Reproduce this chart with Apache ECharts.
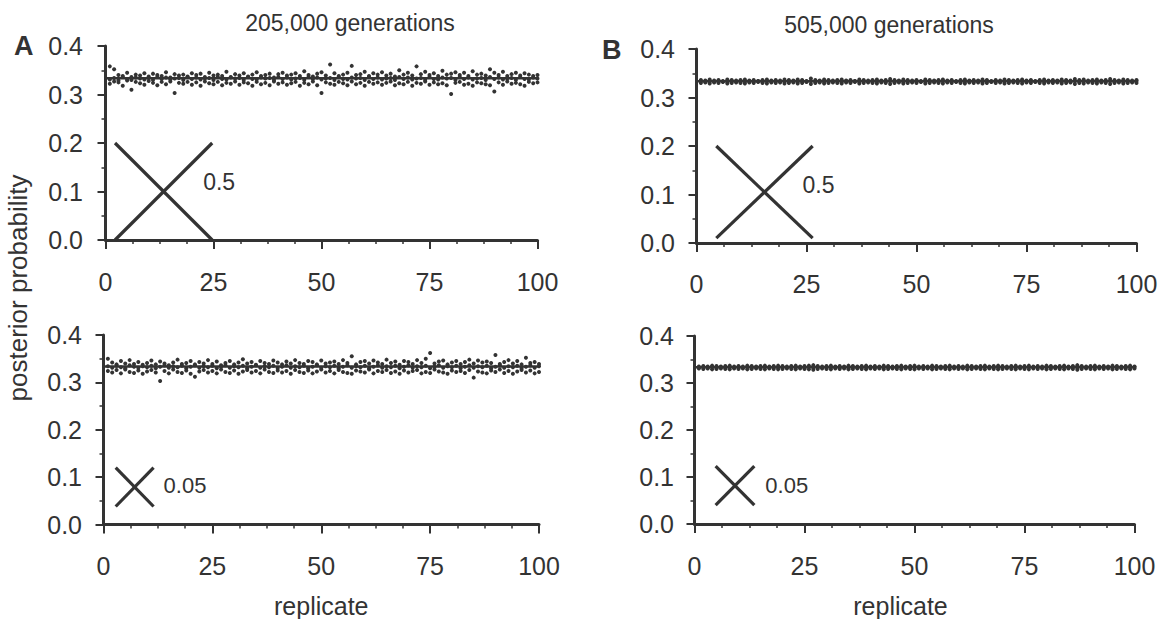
<!DOCTYPE html>
<html><head><meta charset="utf-8">
<script src="https://cdn.jsdelivr.net/npm/echarts@6/dist/echarts.min.js"></script>
<style>html,body{margin:0;padding:0;background:#fff}#c{width:1170px;height:619px}</style>
</head><body><div id="c"></div>
<script>
// ---------- DATA ----------
const panelTitles = ['205,000 generations', '505,000 generations'];
const panelLetters = ['A', 'B'];
const yLabelText = 'posterior probability';
const xLabelText = 'replicate';
const yTicks = [0, 0.1, 0.2, 0.3, 0.4];
const xTicks = [0, 25, 50, 75, 100];
const trueValue = 0.3333;
const treeLabels = ['0.5', '0.5', '0.05', '0.05'];
// tree glyph extents per panel [xLeft, xRight, yLow, yHigh] (data units)
const treeA1 = [2.2, 24.7, 0.0, 0.2];
const treeB1 = [4.5, 26.4, 0.01, 0.2];
const treeA2 = [2.8, 11.5, 0.038, 0.12];
const treeB2 = [4.8, 13.6, 0.04, 0.123];
// label anchor per panel [x, y]
const treeLabelPos = [[22.6, 0.12], [24.1, 0.12], [13.8, 0.082], [16.1, 0.081]];

// posterior probabilities (x1000) for the three trees, replicates 1..100
const A1_t1 = [358,352,340,338,345,336,341,339,344,337,343,340,338,346,335,342,339,341,337,344,340,343,336,345,339,341,338,347,336,342,339,344,337,341,346,338,340,343,335,342,345,339,341,344,338,348,340,337,343,346,339,362,344,338,341,345,359,340,342,347,338,344,341,346,339,343,337,350,341,345,339,358,342,347,340,344,338,349,341,343,346,340,345,338,348,341,343,339,352,345,340,347,338,342,345,339,344,341,338,340];
const A1_t2 = [322,327,325,318,329,310,326,323,320,328,324,319,326,321,327,303,324,322,326,320,325,318,327,323,321,326,319,324,322,327,320,325,323,318,326,321,324,319,327,322,325,320,323,326,318,324,321,327,319,303,325,322,320,326,323,319,327,321,324,318,326,322,325,320,324,327,319,323,321,326,318,324,322,327,320,325,321,323,319,301,324,326,320,322,318,325,323,321,319,306,325,320,327,322,324,321,318,326,323,325];
const A1_t3 = [331,334,329,336,332,330,335,333,331,334,330,336,332,335,331,333,334,330,336,332,335,331,333,334,330,336,332,331,335,333,334,330,336,332,331,335,333,334,330,336,332,335,331,333,334,330,336,332,335,331,333,334,330,336,332,331,335,333,334,330,336,332,335,331,333,334,330,336,332,335,331,333,334,330,336,332,331,335,333,334,330,336,332,335,331,333,334,330,336,332,335,331,333,334,330,336,332,331,335,333];

const A2_t1 = [350,342,338,345,340,347,339,343,337,341,346,338,344,340,336,342,348,339,341,345,338,343,340,347,339,344,336,341,345,338,342,349,340,343,337,345,341,339,346,342,338,344,340,347,341,339,345,343,338,346,340,342,344,339,347,341,355,338,343,345,340,346,342,339,348,341,344,337,345,343,339,347,341,350,362,340,344,346,338,342,345,339,343,348,340,346,342,344,341,358,339,343,347,340,345,338,352,341,343,339];
const A2_t2 = [324,321,326,319,327,322,320,325,318,323,326,321,303,324,319,327,322,320,325,318,312,323,326,321,324,319,327,322,320,325,318,323,326,321,324,319,327,322,320,325,321,324,318,326,322,320,325,319,323,327,321,324,319,326,322,320,318,325,323,321,327,319,324,322,326,320,323,318,325,321,324,326,319,322,320,327,323,321,318,325,322,324,320,326,310,323,321,319,325,322,327,320,324,318,323,326,321,325,319,322];
const A2_t3 = [334,331,335,332,330,336,333,331,334,332,335,330,333,336,331,334,332,335,330,333,336,331,334,332,335,330,333,336,331,334,332,335,330,333,336,331,334,332,335,330,333,336,331,334,332,335,330,333,336,331,334,332,335,330,333,336,331,334,332,335,330,333,336,331,334,332,335,330,333,336,331,334,332,335,330,333,336,331,334,332,335,330,333,336,331,334,332,335,330,333,336,331,334,332,335,330,333,336,331,334];

const B1_t1 = [336,335,337,335,336,334,337,336,335,336,337,335,336,334,336,337,335,336,335,337,336,335,337,336,334,339,336,335,337,336,335,336,337,335,336,334,337,336,335,336,337,335,336,338,336,335,337,336,335,336,334,337,336,335,336,337,335,336,334,336,337,335,336,335,337,336,334,336,335,337,336,335,336,337,335,336,334,336,337,335,336,335,337,336,335,338,336,337,335,336,337,335,336,338,336,335,337,336,335,336];
const B1_t2 = [330,331,329,331,330,332,329,330,331,330,329,331,330,332,330,329,331,330,331,329,330,331,329,330,332,328,330,331,329,330,331,330,329,331,330,332,329,330,331,330,329,331,330,328,330,331,329,330,331,330,332,329,330,331,330,329,331,330,332,330,329,331,330,331,329,330,332,330,331,329,330,331,330,329,331,330,332,330,329,331,330,331,329,330,331,328,330,329,331,330,329,331,330,328,330,331,329,330,331,330];
const B1_t3 = [334,333,334,333,334,333,333,334,333,334,333,334,333,334,333,334,333,334,333,334,333,334,333,334,333,334,333,334,333,334,333,334,333,334,333,334,333,334,333,334,333,334,333,334,333,334,333,334,333,334,333,334,333,334,333,334,333,334,333,334,333,334,333,334,333,334,333,334,333,334,333,334,333,334,333,334,333,334,333,334,333,334,333,334,333,334,333,334,333,334,333,334,333,334,333,334,333,334,333,334];

const B2_t1 = [335,336,335,337,336,335,336,337,335,336,335,337,336,335,336,337,335,336,337,336,335,336,337,335,336,337,338,336,335,336,337,335,336,335,337,336,335,336,337,335,336,335,337,336,335,336,337,335,336,337,335,336,335,337,336,335,336,337,335,336,335,337,336,335,336,337,335,336,337,336,335,336,337,335,336,337,335,336,335,337,336,335,336,337,335,336,338,336,335,336,337,335,336,335,337,336,335,336,337,335];
const B2_t2 = [331,330,331,329,330,331,330,329,331,330,331,329,330,331,330,329,331,330,329,330,331,330,329,331,330,329,328,330,331,330,329,331,330,331,329,330,331,330,329,331,330,331,329,330,331,330,329,331,330,329,331,330,331,329,330,331,330,329,331,330,331,329,330,331,330,329,331,330,329,330,331,330,329,331,330,329,331,330,331,329,330,331,330,329,331,330,328,330,331,330,329,331,330,331,329,330,331,330,329,331];
const B2_t3 = [333,334,333,334,333,334,333,334,333,334,333,334,333,334,333,334,333,334,333,334,333,334,333,334,333,334,333,334,333,334,333,334,333,334,333,334,333,334,333,334,333,334,333,334,333,334,333,334,333,334,333,334,333,334,333,334,333,334,333,334,333,334,333,334,333,334,333,334,333,334,333,334,333,334,333,334,333,334,333,334,333,334,333,334,333,334,333,334,333,334,333,334,333,334,333,334,333,334,333,334];

// ---------- CHART ----------
const INK = '#333333';
const FONT = '"Liberation Sans", Arial, Helvetica, sans-serif';
const chart = echarts.init(document.getElementById('c'), null, {renderer: 'svg'});

// grid layout: [left, top, width, height, yAxisOffset, xAxisOffset]
const layout = [
  [105.5, 46, 432, 194, 11.5, 11],
  [696.5, 49, 440, 194, 10.5, 10],
  [103.5, 335, 435.5, 194, 10.5, 10.5],
  [694.5, 336, 440, 194, 9.5, 11]
];
const namePad = [[0, 0, 0, 0], [0, 0, 0, 0], [0, 0, 0, 0], [0, 28, 0, 0]];
const panelData = [[A1_t1, A1_t2, A1_t3], [B1_t1, B1_t2, B1_t3], [A2_t1, A2_t2, A2_t3], [B2_t1, B2_t2, B2_t3]];
const trees = [treeA1, treeB1, treeA2, treeB2];

const grid = [], xAxis = [], yAxis = [], series = [];
layout.forEach((L, i) => {
  grid.push({left: L[0], top: L[1], width: L[2], height: L[3]});
  xAxis.push({
    gridIndex: i, type: 'value', min: xTicks[0], max: xTicks[xTicks.length - 1], interval: 25,
    offset: L[5],
    axisLine: {show: true, lineStyle: {color: INK, width: 3}},
    axisTick: {show: true, length: 9, lineStyle: {color: INK, width: 2}},
    minorTick: {show: true, splitNumber: 4, length: 4, lineStyle: {color: INK, width: 1.5}},
    splitLine: {show: false},
    axisLabel: {color: INK, fontSize: 25, fontFamily: FONT, margin: 18},
    name: i >= 2 ? xLabelText : '', nameLocation: 'middle', nameGap: 58,
    nameTextStyle: {color: INK, fontSize: 25, fontFamily: FONT, padding: namePad[i]}
  });
  yAxis.push({
    gridIndex: i, type: 'value', min: yTicks[0], max: yTicks[yTicks.length - 1], interval: 0.1,
    offset: L[4],
    axisLine: {show: true, lineStyle: {color: INK, width: 3}},
    axisTick: {show: true, length: 8, lineStyle: {color: INK, width: 2}},
    minorTick: {show: true, splitNumber: 2, length: 4, lineStyle: {color: INK, width: 1.5}},
    splitLine: {show: false},
    axisLabel: {color: INK, fontSize: 25, fontFamily: FONT, margin: 11, formatter: v => v.toFixed(1)}
  });
  const pts = [];
  panelData[i].forEach(arr => arr.forEach((v, k) => pts.push([k + 1, v / 1000])));
  series.push({
    type: 'scatter', xAxisIndex: i, yAxisIndex: i, data: pts, symbolSize: 4,
    itemStyle: {color: INK, opacity: 1}, silent: true, z: 3
  });
  series.push({
    type: 'line', xAxisIndex: i, yAxisIndex: i, clip: false, symbol: 'none',
    data: [[-L[4] / L[2] * 100, trueValue], [100, trueValue]],
    lineStyle: {color: INK, width: 2.5}, silent: true, z: 4
  });
  const t = trees[i];
  [[[t[0], t[3]], [t[1], t[2]]], [[t[0], t[2]], [t[1], t[3]]]].forEach(seg => {
    series.push({
      type: 'line', xAxisIndex: i, yAxisIndex: i, symbol: 'none', data: seg,
      lineStyle: {color: INK, width: 3.2}, silent: true
    });
  });
  series.push({
    type: 'scatter', xAxisIndex: i, yAxisIndex: i, symbolSize: 0, silent: true,
    itemStyle: {opacity: 1},
    data: [treeLabelPos[i]],
    label: {show: true, position: 'right', distance: 0, formatter: treeLabels[i], opacity: 1,
      color: INK, fontSize: i >= 2 ? 22 : 23, fontFamily: FONT}
  });
});

chart.setOption({
  backgroundColor: '#fff',
  animation: false,
  title: [
    {text: panelTitles[0], left: 345, top: 6, textAlign: 'center', textStyle: {color: INK, fontSize: 23, fontWeight: 'normal', fontFamily: FONT}},
    {text: panelTitles[1], left: 884, top: 8, textAlign: 'center', textStyle: {color: INK, fontSize: 23, fontWeight: 'normal', fontFamily: FONT}},
    {text: panelLetters[0], left: 9, top: 27, textStyle: {color: INK, fontSize: 27, fontWeight: 'bold', fontFamily: FONT}},
    {text: panelLetters[1], left: 597, top: 31, textStyle: {color: INK, fontSize: 27, fontWeight: 'bold', fontFamily: FONT}}
  ],
  graphic: [{
    type: 'text', x: 18, y: 288, rotation: Math.PI / 2,
    style: {text: yLabelText, fill: INK, fontSize: 26, fontFamily: FONT, textAlign: 'center', textVerticalAlign: 'middle'}
  }],
  grid, xAxis, yAxis, series
});
</script></body></html>
